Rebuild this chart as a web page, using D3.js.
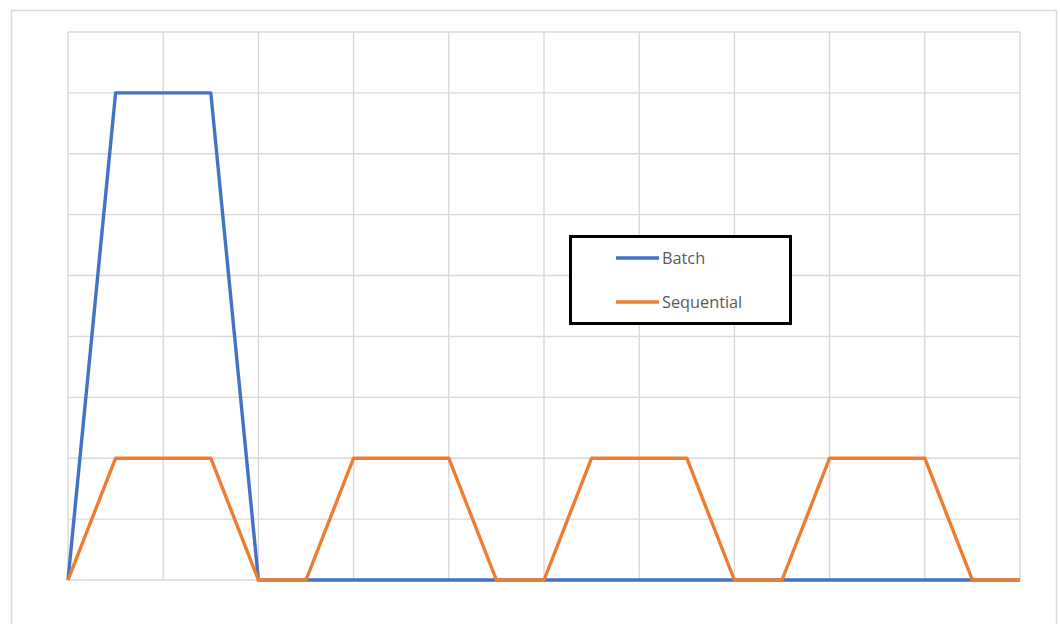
<!DOCTYPE html>
<html>
<head>
<meta charset="utf-8">
<script src="https://cdn.jsdelivr.net/npm/d3@7"></script>
<style>
  html, body { margin: 0; padding: 0; background: #fff; }
  svg { display: block; }
</style>
</head>
<body>
<svg id="chart" width="1060" height="624"></svg>
<script>
// Time steps (category indices) and the two load profiles
const steps = d3.range(0, 21);
const batchValues = [0, 8, 8, 8, 0, 0, 0, 0, 0, 0, 0, 0, 0, 0, 0, 0, 0, 0, 0, 0, 0];
const sequentialValues = [0, 2, 2, 2, 0, 0, 2, 2, 2, 0, 0, 2, 2, 2, 0, 0, 2, 2, 2, 0, 0];
const seriesNames = ["Batch", "Sequential"];
const seriesColors = ["#4472c4", "#ed7d31"];
const xGridTicks = d3.range(0, 21, 2);
const yGridTicks = d3.range(0, 10, 1);

const svg = d3.select("#chart");

// Outer chart frame
svg.append("rect")
  .attr("x", 11.5).attr("y", 10.5)
  .attr("width", 1045).attr("height", 630)
  .attr("fill", "#fff")
  .attr("stroke", "#d9d9d9")
  .attr("stroke-width", 1.5);

const x = d3.scaleLinear().domain([0, 20]).range([68, 1020]);
const y = d3.scaleLinear().domain([0, 9]).range([580, 32]);

// Gridlines
const grid = svg.append("g").attr("stroke", "#d9d9d9").attr("stroke-width", 1.4);
grid.selectAll("line.v").data(xGridTicks).join("line")
  .attr("class", "v")
  .attr("x1", d => x(d)).attr("x2", d => x(d))
  .attr("y1", y(9)).attr("y2", y(0));
grid.selectAll("line.h").data(yGridTicks).join("line")
  .attr("class", "h")
  .attr("x1", x(0)).attr("x2", x(20))
  .attr("y1", d => y(d)).attr("y2", d => y(d));

// Series lines
const line = d3.line().x((d, i) => x(steps[i])).y(d => y(d));
const series = [batchValues, sequentialValues];
svg.append("g").selectAll("path").data(series).join("path")
  .attr("d", line)
  .attr("fill", "none")
  .attr("stroke", (d, i) => seriesColors[i])
  .attr("stroke-width", 3.4)
  .attr("stroke-linejoin", "round")
  .attr("stroke-linecap", "butt");

// Legend
const legend = svg.append("g");
legend.append("rect")
  .attr("x", 570.5).attr("y", 236.5)
  .attr("width", 220).attr("height", 87)
  .attr("fill", "#fff")
  .attr("stroke", "#000")
  .attr("stroke-width", 3);
const legendY = [258, 302];
seriesNames.forEach((name, i) => {
  legend.append("line")
    .attr("x1", 616).attr("x2", 659)
    .attr("y1", legendY[i]).attr("y2", legendY[i])
    .attr("stroke", seriesColors[i])
    .attr("stroke-width", 3.4);
  legend.append("text")
    .attr("x", 662).attr("y", legendY[i])
    .attr("dy", "0.35em")
    .attr("font-family", "'Open Sans', 'Noto Sans', sans-serif")
    .attr("font-size", 16.3)
    .attr("fill", "#595959")
    .text(name);
});
</script>
</body>
</html>
